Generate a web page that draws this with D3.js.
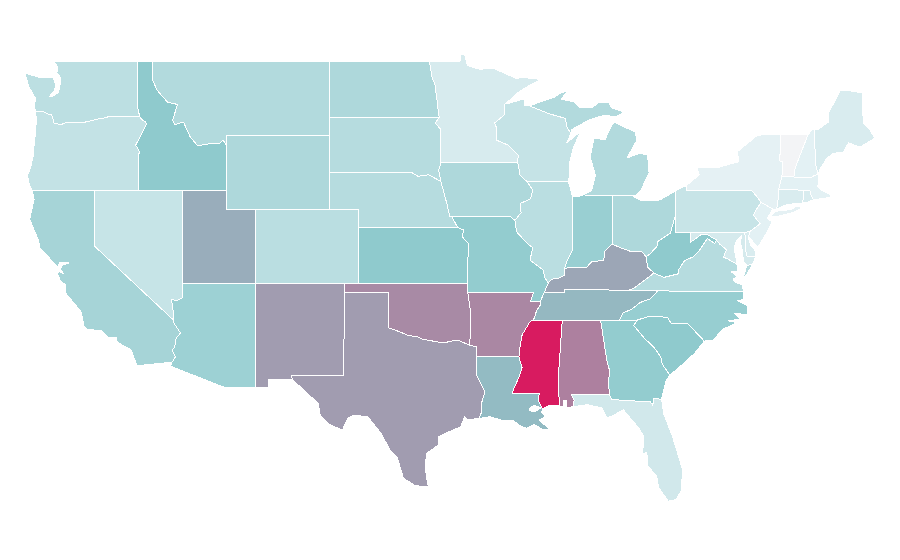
<!DOCTYPE html>
<html>
<head>
<meta charset="utf-8">
<style>
  html, body { margin: 0; background: #fff; }
</style>
<script src="https://cdn.jsdelivr.net/npm/d3@7"></script>
</head>
<body>
<div id="map"></div>
<script>
// state names and values (0 lightest, 100 = Mississippi)
const stateNames = ['Washington','Oregon','California','Nevada','Idaho','Montana','Wyoming','Utah','Colorado','Arizona','New Mexico','North Dakota','South Dakota','Nebraska','Kansas','Oklahoma','Texas','Minnesota','Iowa','Missouri','Arkansas','Louisiana','Mississippi','Alabama','Tennessee','Kentucky','Illinois','Indiana','Ohio','Michigan','Wisconsin','Georgia','Florida','South Carolina','North Carolina','Virginia','West Virginia','Maryland','Delaware','Pennsylvania','New Jersey','New York','Vermont','New Hampshire','Maine','Massachusetts','Connecticut','Rhode Island'];
const stateValues = [27,23.5,38,22,49,32,34,58,28,42,63,34,30,30,49,68,63,14,34,47,69,54,100,71,55,60,28,44,34,32,22.5,47,17,49,45,30,49,15,13,21.5,8,7,0,8,13,8,13,13];

const colorStops = [0, 8, 50, 100];
const colorRange = ['#f3f4f6', '#e3f1f4', '#8dc9cc', '#d81b60'];

// shared borders as [lon, lat], each one used by the two states on either side
const borders = {
  can_wa: [[-122.76,49],[-117.04,49]],
  can_id: [[-117.04,49],[-116.05,49]],
  can_mt: [[-116.05,49],[-104.05,49]],
  can_nd: [[-104.05,49],[-97.23,49]],
  can_mn: [[-97.23,49],[-95.15,49],[-95.15,49.38],[-94.82,49.32],[-94.65,48.75],[-93.8,48.55],[-92.95,48.62],[-92.0,48.3],[-91.4,48.07],[-90.75,48.1],[-89.6,48.0]],
  wa_coast: [[-122.76,49],[-122.5,48.7],[-122.55,48.35],[-122.27,48.08],[-122.35,47.6],[-122.47,47.27],[-122.9,47.08],[-123.1,47.05],[-122.75,47.35],[-122.6,47.7],[-122.8,48.08],[-123.77,48.13],[-124.2,48.22],[-124.72,48.36],[-124.45,47.6],[-124.2,47.25],[-123.98,46.95],[-124.1,46.6],[-124.0,46.27]],
  wa_or: [[-124.0,46.27],[-123.5,46.27],[-123.2,46.15],[-122.9,46.08],[-122.8,45.85],[-122.75,45.65],[-122.3,45.55],[-121.9,45.68],[-121.2,45.65],[-120.9,45.65],[-120.5,45.72],[-119.95,45.83],[-119.3,45.93],[-118.98,46.0],[-116.92,46.0]],
  wa_id: [[-117.04,49],[-117.04,46.42],[-116.92,46.0]],
  or_id: [[-116.92,46.0],[-116.78,45.83],[-116.55,45.72],[-116.46,45.6],[-116.67,45.25],[-116.85,44.95],[-117.2,44.45],[-117.03,44.25],[-116.93,44.1],[-117.03,43.83],[-117.03,42]],
  or_coast: [[-124.0,46.27],[-123.95,45.9],[-123.98,45.2],[-124.08,44.6],[-124.15,43.9],[-124.35,43.2],[-124.55,42.83],[-124.42,42.3],[-124.21,42]],
  or_ca: [[-124.21,42],[-120,42]],
  or_nv: [[-120,42],[-117.03,42]],
  id_nv: [[-117.03,42],[-114.04,42]],
  id_ut: [[-114.04,42],[-111.05,42]],
  id_wy: [[-111.05,44.47],[-111.05,42]],
  id_mt: [[-111.05,44.47],[-111.25,44.72],[-111.5,44.55],[-112.36,44.51],[-112.98,44.41],[-113.5,44.92],[-113.95,45.7],[-114.55,45.56],[-114.68,45.81],[-114.35,46.65],[-115.03,46.78],[-115.75,47.43],[-116.05,48.0],[-116.05,49]],
  mt_wy: [[-104.05,45],[-111.05,45],[-111.05,44.47]],
  mt_nd: [[-104.05,49],[-104.05,45.94]],
  mt_sd: [[-104.05,45.94],[-104.05,45]],
  nd_sd: [[-104.05,45.94],[-96.56,45.94]],
  mn_nd: [[-96.56,45.94],[-96.6,46.1],[-96.7,46.8],[-96.85,47.7],[-97.05,48.13],[-97.23,49]],
  mn_sd: [[-96.45,43.5],[-96.45,45.3],[-96.85,45.65],[-96.56,45.94]],
  mn_coast: [[-89.6,48.0],[-90.5,47.65],[-91.3,47.25],[-92.0,46.72]],
  mn_wi: [[-92.0,46.72],[-92.15,46.66],[-92.15,46.08],[-92.8,45.65],[-92.65,45.35],[-92.7,44.73],[-91.9,44.46],[-91.2,43.92],[-91.22,43.5]],
  mn_ia: [[-91.22,43.5],[-96.45,43.5]],
  sd_wy: [[-104.05,45],[-104.05,43]],
  sd_ne: [[-104.05,43],[-98.5,43],[-98.0,42.77],[-97.3,42.85],[-96.7,42.6],[-96.45,42.49]],
  sd_ia: [[-96.45,42.49],[-96.6,43.1],[-96.45,43.5]],
  wy_ne: [[-104.05,43],[-104.05,41]],
  wy_co: [[-104.05,41],[-109.05,41]],
  wy_ut: [[-109.05,41],[-111.05,41],[-111.05,42]],
  ne_co: [[-104.05,41],[-102.05,41],[-102.05,40]],
  ne_ks: [[-102.05,40],[-95.31,40]],
  ne_ia: [[-96.45,42.49],[-96.05,41.3],[-95.85,40.6]],
  ne_mo: [[-95.85,40.6],[-95.7,40.57],[-95.31,40]],
  ks_co: [[-102.05,40],[-102.05,37]],
  ks_ok: [[-102.05,37],[-94.62,37]],
  ks_mo: [[-95.31,40],[-94.9,39.86],[-95,39.5],[-94.6,39.15],[-94.62,37]],
  co_nm: [[-109.05,37],[-103,37]],
  co_ok: [[-103,37],[-102.05,37]],
  co_ut: [[-109.05,41],[-109.05,37]],
  ut_az: [[-114.04,37],[-109.05,37]],
  ut_nv: [[-114.04,42],[-114.04,37]],
  nv_az: [[-114.04,37],[-114.04,36.2],[-114.4,36.05],[-114.75,36.1],[-114.65,35.5],[-114.63,35]],
  nv_ca: [[-120,42],[-120,39],[-114.63,35]],
  ca_coast: [[-124.21,42],[-124.1,41.5],[-124.4,40.45],[-123.8,39.3],[-123.7,38.9],[-123.0,38.3],[-122.5,37.85],[-122.35,38.1],[-121.7,38.08],[-122.2,37.95],[-122.3,37.75],[-122.1,37.5],[-122.42,37.65],[-122.5,37.5],[-122.3,37.1],[-121.93,36.89],[-122.0,36.5],[-120.9,35.44],[-120.69,34.63],[-120.49,34.5],[-119.53,34.41],[-119.1,34.08],[-118.5,34.03],[-118.44,33.8],[-117.5,33.38],[-117.3,32.95],[-117.12,32.53]],
  ca_mex: [[-117.12,32.53],[-114.72,32.72]],
  ca_az: [[-114.63,35],[-114.57,34.8],[-114.15,34.3],[-114.45,34.0],[-114.55,33.5],[-114.72,33.4],[-114.5,33.0],[-114.72,32.72]],
  az_mex: [[-114.72,32.72],[-114.82,32.5],[-111.07,31.33],[-109.05,31.33]],
  az_nm: [[-109.05,31.33],[-109.05,37]],
  nm_mex: [[-109.05,31.33],[-108.2,31.33],[-108.2,31.78],[-106.53,31.78]],
  nm_tx: [[-106.53,31.78],[-106.62,32],[-103.06,32],[-103,36.5]],
  nm_ok: [[-103,36.5],[-103,37]],
  tx_ok: [[-103,36.5],[-100,36.5],[-100,34.57],[-99.2,34.35],[-98.77,34.19],[-98,34.08],[-97.7,33.95],[-97.4,33.92],[-96.3,33.76],[-95.35,33.92],[-94.48,33.64]],
  tx_ar: [[-94.48,33.64],[-94.04,33.55],[-94.04,33.02]],
  tx_la: [[-94.04,33.02],[-94.04,32.03],[-93.45,31.1],[-93.65,30.65],[-93.72,29.95],[-93.85,29.68]],
  tx_coast: [[-93.85,29.68],[-94.65,29.6],[-94.85,29.76],[-95.1,29.22],[-96.1,28.9],[-96.6,28.68],[-96.6,28.25],[-97.4,27.8],[-97.5,27.27],[-97.45,26.6],[-97.3,25.97]],
  tx_mex: [[-97.3,25.97],[-98.2,26.05],[-99,26.45],[-99.4,27.54],[-99.9,27.97],[-100.55,28.9],[-101.4,29.76],[-102.4,29.86],[-102.75,29.7],[-103.15,29.05],[-104,29.35],[-104.65,29.86],[-104.8,30.5],[-106,31.38],[-106.53,31.78]],
  ok_mo: [[-94.62,37],[-94.62,36.5]],
  ok_ar: [[-94.62,36.5],[-94.43,35.4],[-94.48,33.64]],
  ar_mo: [[-94.62,36.5],[-90.15,36.5],[-90.37,36],[-89.7,36]],
  ar_tn: [[-89.7,36],[-89.7,35.8],[-89.95,35.5],[-90.1,35.1],[-90.2,35]],
  ar_ms: [[-90.2,35],[-90.4,34.9],[-90.93,34.2],[-91.07,33.54],[-91.15,33]],
  ar_la: [[-94.04,33.02],[-91.15,33]],
  la_ms: [[-91.15,33],[-90.93,32.41],[-91.1,32],[-91.54,31.2],[-91.6,31],[-89.75,31.05],[-89.85,30.65],[-89.55,30.2]],
  la_coast: [[-89.55,30.2],[-89.6,30.03],[-89.35,29.75],[-89.75,29.6],[-89.5,29.4],[-89.07,29.12],[-89.45,29.05],[-90.1,29.35],[-90.6,29.15],[-91.0,29.25],[-91.5,29.55],[-92.2,29.55],[-93.1,29.77],[-93.85,29.68]],
  mo_ia: [[-95.85,40.6],[-91.73,40.6],[-91.42,40.38]],
  mo_il: [[-91.42,40.38],[-91.3,39.76],[-90.6,39.15],[-90.2,38.9],[-90.4,38.24],[-89.5,37.7],[-89.4,37.3],[-89.15,37]],
  mo_ky: [[-89.15,37],[-89.42,36.5]],
  mo_tn: [[-89.42,36.5],[-89.7,36]],
  ia_il: [[-91.42,40.38],[-91,40.8],[-91.05,41.3],[-90.35,41.55],[-90.2,42.03],[-90.64,42.51]],
  ia_wi: [[-90.64,42.51],[-91.07,42.84],[-91.22,43.5]],
  wi_il: [[-90.64,42.51],[-87.8,42.49]],
  il_coast: [[-87.8,42.49],[-87.55,41.86],[-87.53,41.72]],
  il_in: [[-87.53,41.72],[-87.53,39.35],[-87.5,38.8],[-87.85,38.25],[-88.05,37.8]],
  il_ky: [[-88.05,37.8],[-88.05,37.43],[-88.4,37.27],[-88.93,37.2],[-89.15,37]],
  in_coast: [[-87.53,41.72],[-87.2,41.65],[-86.82,41.76]],
  in_mi: [[-86.82,41.76],[-84.8,41.72]],
  in_oh: [[-84.8,41.72],[-84.82,39.1]],
  in_ky: [[-84.82,39.1],[-85.3,38.73],[-85.38,38.24],[-86.2,38.14],[-86.54,37.86],[-87.1,37.86],[-88.05,37.8]],
  oh_ky: [[-84.82,39.1],[-84.15,38.88],[-83.47,38.68],[-82.78,38.68],[-82.5,38.42]],
  oh_wv: [[-82.5,38.42],[-82.2,38.6],[-81.75,39],[-81.7,39.25],[-80.85,39.7],[-80.52,40.64]],
  oh_pa: [[-80.52,40.64],[-80.52,41.98]],
  oh_coast: [[-80.52,41.98],[-81.55,41.49],[-82.8,41.43],[-83.45,41.72]],
  oh_mi: [[-83.45,41.72],[-84.8,41.72]],
  mi_coast: [[-83.45,41.72],[-83.25,41.72],[-82.9,41.95],[-82.3,42.95],[-82.4,43.9],[-82.9,44.03],[-83.8,43.76],[-83.12,44.73],[-83.25,45.16],[-84.7,45.7],[-85,45.27],[-85.3,44.73],[-86.05,44.84],[-86.3,43.8],[-85.95,42.84],[-86.2,42],[-86.82,41.76]],
  up_coast: [[-90.42,46.57],[-89.5,46.85],[-88.7,47.05],[-88.4,47.25],[-87.7,47.43],[-88.3,46.95],[-87.4,46.78],[-87,46.46],[-86.2,46.46],[-85.75,46.73],[-85,46.73],[-84.85,46.46],[-84,46.24],[-84.6,45.97],[-85.3,46.08],[-86.4,45.81],[-87,45.54],[-87.6,45.27],[-87.6,45.1]],
  mi_wi: [[-87.6,45.1],[-87.85,45.35],[-88,45.9],[-89.1,46.15],[-90.42,46.57]],
  wi_coast: [[-87.8,42.49],[-87.7,42.84],[-87.7,43.5],[-87.43,44.35],[-86.95,45.2],[-87.9,44.57],[-87.6,45.1]],
  wi_sup: [[-90.42,46.57],[-90.8,46.6],[-90.8,46.95],[-91.9,46.7],[-92.0,46.72]],
  ky_tn: [[-89.42,36.5],[-88.05,36.5],[-88.07,36.67],[-83.68,36.6]],
  ky_va: [[-83.68,36.6],[-83.27,36.76],[-82.6,37.15],[-81.97,37.54]],
  ky_wv: [[-81.97,37.54],[-82.4,37.85],[-82.5,38.42]],
  tn_ms: [[-90.2,35],[-88.2,35]],
  tn_al: [[-88.2,35],[-85.6,35]],
  tn_ga: [[-85.6,35],[-84.32,35]],
  tn_nc: [[-84.32,35],[-84.05,35.4],[-83.5,35.57],[-82.9,35.95],[-82.2,36.15],[-81.7,36.59]],
  tn_va: [[-81.7,36.59],[-83.68,36.6]],
  ms_al: [[-88.2,35],[-88.47,31.9],[-88.4,30.35]],
  ms_coast: [[-88.4,30.35],[-89,30.4],[-89.55,30.2]],
  al_ga: [[-85.6,35],[-85.18,32.85],[-85,32.3],[-85.05,31.55],[-85,31]],
  al_fl: [[-85,31],[-87.6,31],[-87.4,30.65],[-87.42,30.32]],
  al_coast: [[-87.42,30.32],[-87.95,30.25],[-87.9,30.65],[-88.1,30.65],[-88.1,30.35],[-88.4,30.35]],
  fl_ga: [[-85,31],[-84.85,30.7],[-82.2,30.57],[-82.05,30.37],[-82,30.75],[-81.45,30.72]],
  fl_coast: [[-81.45,30.72],[-81.3,29.9],[-80.75,28.8],[-80.4,27.9],[-80.03,26.9],[-80.1,25.8],[-80.45,25.3],[-81,25.2],[-81.65,25.95],[-81.8,26.6],[-82.4,27.1],[-82.45,27.85],[-82.75,27.75],[-82.65,28.7],[-83,29.15],[-84.05,30.15],[-84.6,29.9],[-85.15,29.7],[-85.5,30.25],[-86.5,30.42],[-87.42,30.32]],
  ga_sc: [[-80.9,32.03],[-81.4,32.6],[-81.5,33],[-81.95,33.5],[-82.6,34],[-83.35,34.7],[-83.1,35]],
  ga_nc: [[-83.1,35],[-84.32,35]],
  ga_coast: [[-81.45,30.72],[-81.3,31.2],[-81.15,31.7],[-80.9,32.03]],
  sc_nc: [[-83.1,35],[-82.3,35.2],[-81.05,35.15],[-80.8,34.82],[-79.67,34.8],[-78.55,33.86]],
  sc_coast: [[-78.55,33.86],[-79.2,33.2],[-79.9,32.7],[-80.45,32.3],[-80.9,32.03]],
  nc_coast: [[-78.55,33.86],[-77.95,33.9],[-77.3,34.5],[-76.3,34.85],[-76.9,34.95],[-76.1,35.05],[-76.5,35.35],[-75.6,35.3],[-75.65,35.8],[-76.3,36.05],[-75.85,36.1],[-75.87,36.55]],
  nc_va: [[-81.7,36.59],[-80,36.54],[-75.87,36.55]],
  va_coast: [[-75.87,36.55],[-75.98,36.9],[-76.35,37],[-76.6,37.2],[-76.3,37.35],[-76.7,37.6],[-76.3,37.6],[-76.3,38]],
  va_md: [[-76.3,38],[-76.95,38.3],[-77.25,38.4],[-77.04,38.8],[-77.5,39.1],[-77.72,39.32]],
  wv_va: [[-81.97,37.54],[-81.3,37.3],[-80.3,37.5],[-80.3,37.7],[-79.9,38.2],[-79.3,38.42],[-78.87,38.77],[-78.35,39.4],[-77.83,39.13],[-77.72,39.32]],
  wv_md: [[-77.72,39.32],[-78.35,39.62],[-78.8,39.6],[-79.48,39.2],[-79.48,39.72]],
  wv_pa: [[-79.48,39.72],[-80.52,39.72],[-80.52,40.64]],
  md_pa: [[-79.48,39.72],[-75.79,39.72]],
  md_de: [[-75.79,39.72],[-75.7,38.46],[-75.05,38.45]],
  de_pa: [[-75.79,39.72],[-75.42,39.8]],
  de_coast: [[-75.42,39.8],[-75.55,39.45],[-75.4,39.05],[-75.1,38.75],[-75.05,38.45]],
  md_coast: [[-75.05,38.45],[-75.25,38.03],[-75.65,37.95],[-75.9,38.2],[-75.95,38.7],[-76.1,39.2],[-76,39.55],[-76.3,39.35],[-76.5,39],[-76.45,38.5],[-76.35,38.2],[-76.3,38]],
  pa_ny: [[-79.76,42.27],[-79.76,42],[-75.35,42],[-75.05,41.75],[-74.7,41.36]],
  pa_nj: [[-74.7,41.36],[-75.1,40.85],[-75.2,40.65],[-74.75,40.2],[-75.42,39.8]],
  pa_coast: [[-80.52,41.98],[-79.76,42.27]],
  nj_ny: [[-74.7,41.36],[-73.9,41]],
  nj_coast: [[-73.9,41],[-74.25,40.5],[-73.95,40.3],[-74.2,39.87],[-74.9,38.93],[-75.55,39.5],[-75.42,39.8]],
  ny_coast: [[-79.76,42.27],[-78.9,42.85],[-79.05,43.27],[-77.5,43.27],[-76.5,43.5],[-76.2,43.55],[-76.3,44.1],[-75,44.95],[-74.7,45],[-73.35,45.01]],
  ny_vt: [[-73.35,45.01],[-73.4,44],[-73.43,43.6],[-73.25,43.55],[-73.27,42.75]],
  ny_ma: [[-73.27,42.75],[-73.5,42.05]],
  ny_ct: [[-73.5,42.05],[-73.55,41.3],[-73.65,41]],
  ny_gap: [[-73.65,41],[-73.9,41]],
  vt_can: [[-73.35,45.01],[-71.5,45.01]],
  vt_nh: [[-71.5,45.01],[-71.9,44.2],[-72.38,43.2],[-72.46,42.73]],
  vt_ma: [[-73.27,42.75],[-72.46,42.73]],
  nh_ma: [[-72.46,42.73],[-71.3,42.7],[-71.05,42.82],[-70.82,42.87]],
  nh_me: [[-70.82,42.87],[-70.98,43.4],[-71.08,45.3]],
  nh_can: [[-71.5,45.01],[-71.25,45.3],[-71.08,45.3]],
  me_coast: [[-70.82,42.87],[-70.65,43.2],[-70.3,43.65],[-69.85,44],[-69.1,44.08],[-68.75,44.57],[-67.95,44.35],[-66.95,44.84]],
  me_can: [[-66.95,44.84],[-67.3,45.27],[-67.75,45.65],[-67.8,47.27],[-68.3,47.35],[-69.1,47.43],[-69.3,47.43],[-70.1,46.19],[-70.1,45.7],[-70.88,45.27],[-71.08,45.3]],
  ma_ct: [[-73.5,42.05],[-71.8,42.02]],
  ma_ri: [[-71.8,42.02],[-71.38,42.02],[-71.3,41.75],[-71.13,41.5]],
  ma_coast: [[-70.82,42.87],[-70.75,42.45],[-70.85,42.2],[-70.55,42],[-70,41.78],[-69.98,41.62],[-70.7,41.55],[-71.13,41.5]],
  ct_ri: [[-71.8,42.02],[-71.85,41.32]],
  ct_coast: [[-71.85,41.32],[-72.9,41.25],[-73.65,41]],
  ri_coast: [[-71.85,41.32],[-71.5,41.37],[-71.13,41.5]],
  // pieces that touch no other state
  shore_va: [[-75.25,38.03],[-75.65,37.95],[-75.95,37.2],[-75.65,37.5],[-75.25,38.03]],
  long_island: [[-74,40.6],[-73.75,40.87],[-72.6,40.98],[-72.3,41.15],[-71.87,41.07],[-72.5,40.82],[-73.7,40.57],[-74,40.6]],
  isle_royale: [[-89.2,47.85],[-88.6,48.15],[-88.5,48.15],[-89.1,47.85],[-89.2,47.85]],
  pontchartrain: [[-90.4,30.25],[-90.1,30.38],[-89.65,30.25],[-90.1,30.03],[-90.4,30.1],[-90.4,30.25]]
};

// each state is a list of rings, each ring a list of border names in walking order
const stateRings = [
  [['can_wa','wa_id','wa_or','wa_coast']],
  [['wa_or','or_id','or_nv','or_ca','or_coast']],
  [['ca_coast','ca_mex','ca_az','nv_ca','or_ca']],
  [['or_nv','id_nv','ut_nv','nv_az','nv_ca']],
  [['can_id','id_mt','id_wy','id_ut','id_nv','or_id','wa_id']],
  [['can_mt','mt_nd','mt_sd','mt_wy','id_mt']],
  [['mt_wy','sd_wy','wy_ne','wy_co','wy_ut','id_wy']],
  [['id_ut','wy_ut','co_ut','ut_az','ut_nv']],
  [['co_ut','co_nm','co_ok','ks_co','ne_co','wy_co']],
  [['ut_az','az_nm','az_mex','ca_az','nv_az']],
  [['co_nm','nm_ok','nm_tx','nm_mex','az_nm']],
  [['can_nd','mn_nd','nd_sd','mt_nd']],
  [['nd_sd','mn_sd','sd_ia','sd_ne','sd_wy','mt_sd']],
  [['sd_ne','ne_ia','ne_mo','ne_ks','ne_co','wy_ne']],
  [['ne_ks','ks_mo','ks_ok','ks_co']],
  [['nm_ok','co_ok','ks_ok','ok_mo','ok_ar','tx_ok']],
  [['tx_ok','tx_ar','tx_la','tx_coast','tx_mex','nm_tx']],
  [['can_mn','mn_coast','mn_wi','mn_ia','mn_sd','mn_nd']],
  [['mn_ia','sd_ia','ne_ia','mo_ia','ia_il','ia_wi']],
  [['ne_mo','ks_mo','ok_mo','ar_mo','mo_tn','mo_ky','mo_il','mo_ia']],
  [['ar_mo','ar_tn','ar_ms','ar_la','tx_ar','ok_ar']],
  [['ar_la','la_ms','la_coast','tx_la'],['pontchartrain']],
  [['tn_ms','ms_al','ms_coast','la_ms','ar_ms']],
  [['tn_al','al_ga','al_fl','al_coast','ms_al']],
  [['ky_tn','tn_va','tn_nc','tn_ga','tn_al','tn_ms','ar_tn','mo_tn']],
  [['il_ky','mo_ky','ky_tn','ky_va','ky_wv','oh_ky','in_ky']],
  [['ia_il','wi_il','il_coast','il_in','il_ky','mo_il']],
  [['in_coast','in_mi','in_oh','in_ky','il_in']],
  [['oh_mi','in_oh','oh_ky','oh_wv','oh_pa','oh_coast']],
  [['mi_coast','in_mi','oh_mi'],['up_coast','mi_wi'],['isle_royale']],
  [['wi_sup','mn_wi','ia_wi','wi_il','wi_coast','mi_wi']],
  [['tn_ga','ga_nc','ga_sc','ga_coast','fl_ga','al_ga']],
  [['fl_ga','fl_coast','al_fl']],
  [['ga_sc','sc_nc','sc_coast']],
  [['tn_nc','nc_va','nc_coast','sc_nc','ga_nc']],
  [['tn_va','ky_va','wv_va','va_md','va_coast','nc_va'],['shore_va']],
  [['ky_wv','oh_wv','wv_pa','wv_md','wv_va']],
  [['md_pa','md_de','md_coast','va_md','wv_md']],
  [['de_pa','de_coast','md_de']],
  [['pa_coast','pa_ny','pa_nj','de_pa','md_pa','wv_pa','oh_pa']],
  [['nj_ny','nj_coast','pa_nj']],
  [['ny_coast','ny_vt','ny_ma','ny_ct','ny_gap','nj_ny','pa_ny'],['long_island']],
  [['vt_can','vt_nh','vt_ma','ny_vt']],
  [['nh_can','nh_me','nh_ma','vt_nh']],
  [['me_coast','me_can','nh_me']],
  [['ny_ma','ma_ct','ma_ri','ma_coast','nh_ma','vt_ma']],
  [['ma_ct','ct_ri','ct_coast','ny_ct']],
  [['ma_ri','ri_coast','ct_ri']]
];

const width = 900, height = 560;

// the map is plain lon/lat stretched on each axis, not a real projection
const xScale = d3.scaleLinear().domain([-109.05, -102.05]).range([255.5, 358.5]);
const yScale = d3.scaleLinear().domain([49, 37]).range([61, 283]);
const color = d3.scaleLinear().domain(colorStops).range(colorRange);

const same = (a, b) => a[0] === b[0] && a[1] === b[1];

// walk the borders of a ring, flipping each one so the ends join up
function stitch(names) {
  let ring = [];
  names.forEach((name, i) => {
    let arc = borders[name].slice();
    if (i === 0 && names.length > 1) {
      const next = borders[names[1]];
      const end = arc[arc.length - 1];
      if (!same(end, next[0]) && !same(end, next[next.length - 1])) arc.reverse();
    } else if (i > 0 && !same(ring[ring.length - 1], arc[0])) {
      arc.reverse();
      if (!same(ring[ring.length - 1], arc[0])) console.error('gap at ' + name);
    }
    ring = ring.concat(i > 0 ? arc.slice(1) : arc);
  });
  return ring;
}

const features = stateNames.map((name, i) => ({
  type: 'Feature',
  properties: { name: name, value: stateValues[i] },
  geometry: { type: 'MultiPolygon', coordinates: [stateRings[i].map(stitch)] }
}));

const path = d3.geoPath(d3.geoTransform({
  point(lon, lat) { this.stream.point(xScale(lon), yScale(lat)); }
}));

const svg = d3.select('#map').append('svg')
  .attr('width', width)
  .attr('height', height)
  .style('display', 'block');

svg.selectAll('path')
  .data(features)
  .join('path')
  .attr('d', path)
  .attr('fill', d => color(d.properties.value))
  .attr('fill-rule', 'evenodd')
  .attr('stroke', '#fff')
  .attr('stroke-width', 1)
  .attr('stroke-linejoin', 'round')
  .attr('shape-rendering', 'crispEdges');
</script>
</body>
</html>
